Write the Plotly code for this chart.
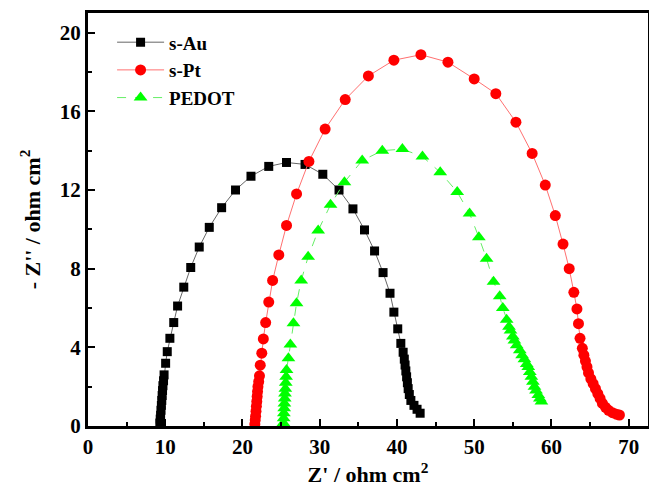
import plotly.graph_objects as go

# s-Au
au_x = [9.3, 9.35, 9.4, 9.45, 9.5, 9.55, 9.6, 9.65, 9.7, 9.78, 9.85,
        10.05, 10.26, 10.6, 11.1, 11.6, 12.4, 13.3, 14.4, 15.7, 17.3, 19.1,
        21.1, 23.4, 25.7, 28.1, 30.4, 32.5, 34.3, 35.8, 37.1, 38.2, 39.1,
        39.6, 40.1, 40.5, 40.8, 40.95, 41.05, 41.15, 41.25, 41.35, 41.45,
        41.6, 41.8, 42.2, 42.6, 43.0]
au_y = [0.15, 0.35, 0.55, 0.8, 1.05, 1.3, 1.55, 1.8, 2.05, 2.3, 2.6,
        3.19, 3.78, 4.46, 5.26, 6.1, 7.06, 8.06, 9.1, 10.1, 11.1, 12.0,
        12.7, 13.2, 13.4, 13.3, 12.8, 12.0, 11.04, 9.97, 8.9, 7.8, 6.75,
        5.79, 4.94, 4.2, 3.75, 3.4, 3.1, 2.8, 2.5, 2.2, 1.9,
        1.6, 1.3, 1.05, 0.85, 0.65]

# s-Pt
pt_x = [21.6, 21.65, 21.7, 21.75, 21.8, 21.85, 21.9, 21.95, 22.0, 22.1, 22.2,
        22.3, 22.5, 22.7, 23.0, 23.4, 23.9, 24.7, 25.7, 27.0, 28.6, 30.7,
        33.3, 36.3, 39.6, 43.1, 46.6, 50.0, 52.8, 55.4, 57.5, 59.2, 60.5,
        61.5, 62.3, 62.9, 63.3, 63.5, 63.7, 64.0, 64.2, 64.4, 64.6, 64.8,
        65.1, 65.4, 65.7, 66.0, 66.3, 66.6, 67.0, 67.4, 67.9, 68.4, 68.8]
pt_y = [0.1, 0.3, 0.5, 0.75, 1.0, 1.25, 1.5, 1.75, 2.0, 2.25, 2.55,
        3.09, 3.7, 4.43, 5.26, 6.3, 7.4, 8.7, 10.2, 11.8, 13.45, 15.1,
        16.6, 17.8, 18.6, 18.88, 18.5, 17.65, 16.9, 15.45, 13.86, 12.25, 10.7,
        9.25, 8.0, 6.8, 5.95, 5.2, 4.46, 3.95, 3.6, 3.3, 3.0, 2.7,
        2.4, 2.15, 1.9, 1.65, 1.4, 1.15, 0.95, 0.8, 0.68, 0.6, 0.56]

# PEDOT
pe_x = [25.3, 25.33, 25.36, 25.4, 25.43, 25.47, 25.5, 25.55, 25.6, 25.65, 25.7,
        25.95, 26.2, 26.6, 27.0, 27.6, 28.5, 29.8, 31.4, 33.2, 35.5, 38.1,
        40.7, 43.3, 45.6, 47.8, 49.4, 50.6, 51.6, 52.5, 53.3, 53.7, 54.2,
        54.5, 54.7, 55.0, 55.2, 55.5, 55.9, 56.2, 56.5, 56.8, 57.0, 57.2,
        57.4, 57.6, 57.8, 58.0, 58.3, 58.5, 58.7]
pe_y = [0.15, 0.4, 0.65, 0.9, 1.15, 1.4, 1.65, 1.9, 2.2, 2.5, 2.85,
        3.45, 4.15, 5.23, 6.24, 7.4, 8.6, 9.94, 11.25, 12.4, 13.5, 14.0,
        14.08, 13.7, 12.9, 11.9, 10.8, 9.6, 8.5, 7.33, 6.6, 6.0, 5.4,
        5.05, 4.85, 4.55, 4.35, 4.1, 3.85, 3.6, 3.4, 3.15, 3.0, 2.75,
        2.5, 2.25, 2.0, 1.8, 1.58, 1.4, 1.25]

FONT = "Liberation Serif, Times New Roman, serif"

fig = go.Figure()
fig.add_trace(go.Scatter(x=au_x, y=au_y, mode="lines+markers", name="s-Au",
                         legendgroup="a",
                         line=dict(color="#666666", width=1),
                         marker=dict(symbol="square", size=9, color="black")))
fig.add_trace(go.Scatter(x=pt_x, y=pt_y, mode="lines+markers", name="s-Pt",
                         legendgroup="b",
                         line=dict(color="#ff7070", width=1),
                         marker=dict(symbol="circle", size=11, color="#ff0000")))
fig.add_trace(go.Scatter(x=pe_x, y=pe_y, mode="lines+markers", name="PEDOT",
                         legendgroup="c",
                         line=dict(color="#66ee66", width=1, dash="dash"),
                         marker=dict(symbol="triangle-up", size=12, color="#00ff00")))

axis_common = dict(showline=True, linewidth=3, linecolor="black", mirror=True,
                   ticks="inside", ticklen=7, tickwidth=2, tickcolor="black",
                   showgrid=False, zeroline=False, automargin=False,
                   tickfont=dict(family=FONT, size=21, color="black", weight="bold"))

fig.update_xaxes(range=[0, 72.5], dtick=10, tick0=0,
                 minor=dict(ticks="inside", ticklen=4, tickwidth=2, dtick=5, tickcolor="black"),
                 title=dict(text="Z' / ohm cm<sup>2</sup>", standoff=2,
                            font=dict(family=FONT, size=22, color="black", weight="bold")),
                 **axis_common)
fig.update_yaxes(range=[0, 21], dtick=4, tick0=0,
                 minor=dict(ticks="inside", ticklen=4, tickwidth=2, dtick=2, tickcolor="black"),
                 title=dict(text="- Z'' / ohm cm<sup>2</sup>", standoff=14,
                            font=dict(family=FONT, size=22, color="black", weight="bold")),
                 **axis_common)

fig.update_layout(width=649, height=487,
                  margin=dict(l=88, r=1, t=13, b=61, autoexpand=False),
                  paper_bgcolor="white", plot_bgcolor="white",
                  legend=dict(x=0.043, y=0.975, xanchor="left", yanchor="top",
                              bgcolor="rgba(0,0,0,0)", tracegroupgap=0,
                              itemwidth=47,
                              font=dict(family=FONT, size=19, color="black", weight="bold")),
                  showlegend=True)

fig.write_html("out.html", config={"displayModeBar": False},
               post_script="document.body.style.margin='0';document.body.style.overflow='hidden';")
